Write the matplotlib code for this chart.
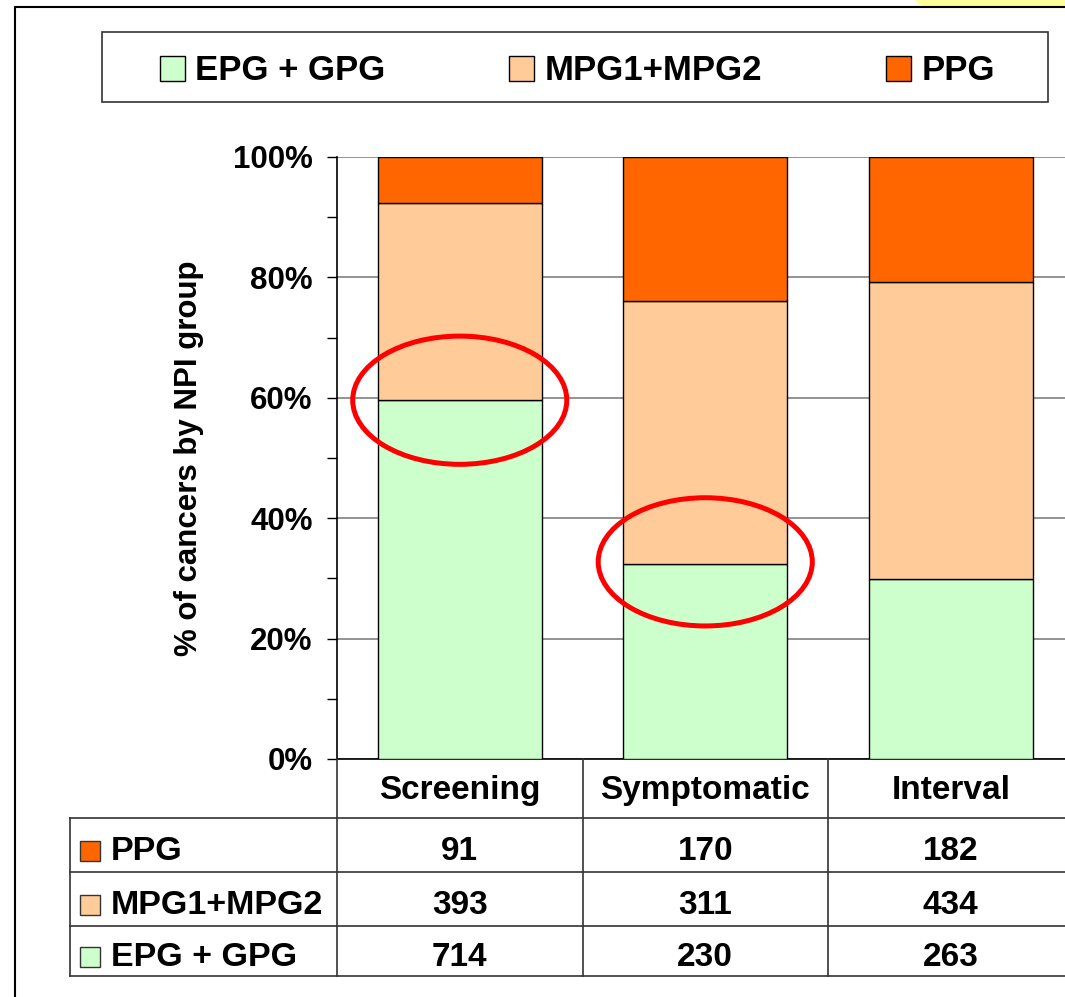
import numpy as np
import matplotlib
matplotlib.use("Agg")
import matplotlib.pyplot as plt
from matplotlib.patches import Ellipse, Rectangle, Polygon
from matplotlib.ticker import PercentFormatter, MultipleLocator

plt.rcParams['font.family'] = ['Liberation Sans', 'DejaVu Sans']
plt.rcParams['font.weight'] = 'bold'

# data
groups = ["Screening", "Symptomatic", "Interval"]
series = ["EPG + GPG", "MPG1+MPG2", "PPG"]
epg_gpg = [714, 230, 263]
mpg = [393, 311, 434]
ppg = [91, 170, 182]
colors = ["#CCFFCC", "#FFCC99", "#FF6600"]
circled = [0, 1]   # groups with the red ellipse at the EPG+GPG boundary

counts = np.array([epg_gpg, mpg, ppg], dtype=float)
totals = counts.sum(axis=0)
pct = counts / totals * 100

W, H = 1065, 997
def fx(px):
    return px / W
def fy(py):
    return 1 - py / H

fig = plt.figure(figsize=(W / 100, H / 100), dpi=100)

# outer frame + yellow corner
fig.add_artist(Polygon([(fx(915), 1), (fx(922), fy(6)), (1, fy(6)), (1, 1)],
                       closed=True, transform=fig.transFigure, fc="#FFFF99", ec="none"))
fig.add_artist(Rectangle((fx(15), -0.1), 1.2, fy(7) + 0.1, transform=fig.transFigure,
                         fill=False, ec="black", lw=1.5))

# main chart
ax = fig.add_axes([fx(337), fy(759), 736.5 / W, 602 / H])
x = np.arange(len(groups))
bottom = np.zeros(len(groups))
bars = []
for name, vals, c in zip(series, pct, colors):
    b = ax.bar(x, vals, 0.67, bottom=bottom, color=c, edgecolor="black", lw=1, label=name, zorder=3)
    bars.append(b)
    bottom += vals

ax.set_xlim(-0.5, 2.5)
ax.set_ylim(0, 100)
ax.set_yticks(range(0, 101, 20))
ax.yaxis.set_minor_locator(MultipleLocator(10))
ax.yaxis.set_major_formatter(PercentFormatter(decimals=0))
ax.tick_params(axis="y", which="both", length=7.5, width=1, direction="out", pad=10, labelsize=22.5)
ax.set_xticks([])
ax.grid(axis="y", color="#808080", lw=1.2, zorder=0)
for s in ["top", "right"]:
    ax.spines[s].set_visible(False)
ax.spines["left"].set_linewidth(1.2)
ax.spines["bottom"].set_linewidth(1.2)
ax.set_ylabel("% of cancers by NPI group", fontsize=22.5, fontweight="bold")
ax.yaxis.set_label_coords(-0.1806, 0.5)

for i in circled:
    ax.add_patch(Ellipse((i, pct[0][i] + 0.4 * i), 0.872, 21.3, fill=False, ec="#FF0000", lw=3.6,
                         zorder=5, clip_on=False))

# legend
fig.add_artist(Rectangle((fx(102), fy(102)), 946 / W, 70 / H, transform=fig.transFigure,
                         fill=False, ec="#333333", lw=1.2))
fig.legend(bars, series, loc="center", bbox_to_anchor=(fx(160), fy(106), (995 - 160) / W, 70 / H),
           mode="expand", ncol=3, frameon=False, fontsize=25, handlelength=0.72, handleheight=0.72,
           handletextpad=0.3, borderpad=0, borderaxespad=0)

# data table below
tax = fig.add_axes([fx(337), fy(976), 736.5 / W, 217 / H])
tax.set_xlim(-0.5, 2.5)
tax.set_ylim(217, 0)
tax.axis("off")
rb = [0, 59, 113, 167, 217]
xl = -0.5 - (337 - 70) / 245.5
lc = "#333333"
for yy in rb[1:]:
    tax.plot([xl, 2.5], [yy, yy], color=lc, lw=1.2, clip_on=False)
tax.plot([xl, xl], [rb[1], rb[-1]], color=lc, lw=1.2, clip_on=False)
for xx in [-0.5, 0.5, 1.5]:
    tax.plot([xx, xx], [0, rb[-1]], color=lc, lw=1.2, clip_on=False)
for i, g in enumerate(groups):
    tax.text(i, (rb[0] + rb[1]) / 2 + 2, g, ha="center", va="center", fontsize=24)

rows = list(zip(series, counts, colors))[::-1]
for r, (name, vals, c) in enumerate(rows):
    yc = (rb[r + 1] + rb[r + 2]) / 2
    tax.plot([-0.5 - (337 - 90) / 245.5], [yc + 6], marker="s", ms=15, mfc=c, mec="#333333",
             mew=1, clip_on=False)
    tax.text(-0.5 - (337 - 111) / 245.5, yc + 6, name, ha="left", va="center", fontsize=24.5)
    for i, v in enumerate(vals):
        tax.text(i, yc + 6, f"{int(v)}", ha="center", va="center", fontsize=24)

fig.savefig("out.png", dpi=100)
